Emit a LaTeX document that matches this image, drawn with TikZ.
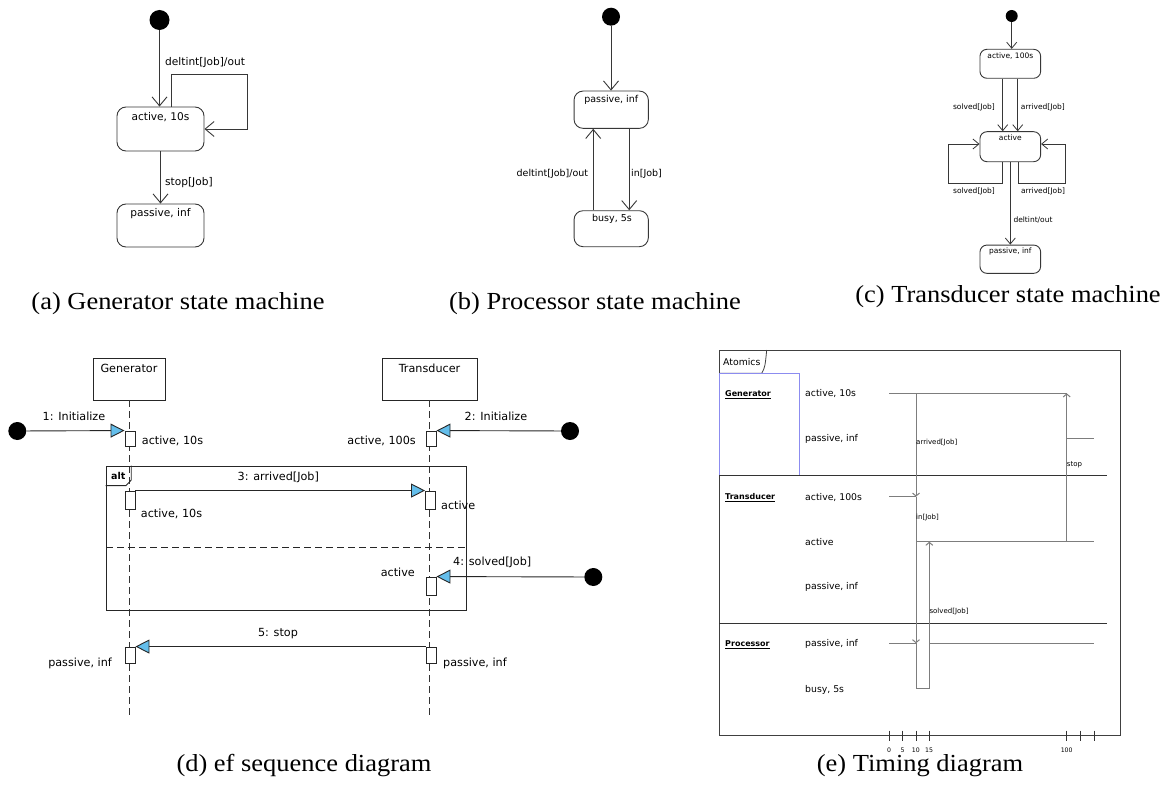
\documentclass[tikz,border=0pt]{standalone}
\usepackage{fontspec}
\setmainfont{Liberation Serif}
\newfontfamily\dv{DejaVu Sans}
\newfontfamily\capfont[FakeStretch=1.08]{Liberation Serif}
\usetikzlibrary{arrows.meta,calc}
\definecolor{seqblue}{RGB}{100,190,235}
\definecolor{lnc}{RGB}{55,55,55}
\definecolor{tgray}{RGB}{125,125,125}
\definecolor{laneblue}{RGB}{140,140,240}
\tikzset{
 ftA/.style={font=\dv\fontsize{10.6}{12}\selectfont, inner sep=0pt, text height=10.3pt, text depth=2.65pt},
 ftB/.style={font=\dv\fontsize{9.5}{11}\selectfont, inner sep=0pt, text height=9.2pt, text depth=2.4pt},
 ftC/.style={font=\dv\fontsize{7.5}{9}\selectfont, inner sep=0pt, text height=7.3pt, text depth=1.9pt},
 ftD/.style={font=\dv\fontsize{11.2}{13}\selectfont, inner sep=0pt, text height=10.9pt, text depth=2.8pt},
 ftE/.style={font=\dv\fontsize{9.3}{11}\selectfont, inner sep=0pt, text height=9pt, text depth=2.3pt},
 ftT/.style={font=\dv\fontsize{7}{8}\selectfont, inner sep=0pt, text height=6.8pt, text depth=1.75pt},
 ftK/.style={font=\dv\fontsize{6.2}{7}\selectfont, inner sep=0pt},
 ftL/.style={font=\dv\bfseries\fontsize{8}{9}\selectfont, inner sep=0pt, text height=7.8pt, text depth=2pt},
 ftAlt/.style={font=\dv\bfseries\fontsize{9.5}{11}\selectfont, inner sep=0pt, text height=9.2pt, text depth=2.4pt},
 capt/.style={font=\capfont\fontsize{24.5}{28}\selectfont, inner sep=0pt, anchor=base},
 statebox/.style={draw=lnc, rounded corners=9pt, inner sep=0pt, line width=0.9pt},
 initdot/.style={circle, fill=black, draw=none, inner sep=0pt},
 sarr/.style={draw=lnc, line width=0.9pt, -{Straight Barb[length=9pt,width=15pt]}},
 sarrc/.style={draw=lnc, line width=0.8pt, -{Straight Barb[length=6pt,width=10pt]}},
 objbox/.style={draw=black!85, inner sep=0pt, line width=0.9pt},
 act/.style={draw=black!85, fill=white, inner sep=0pt, minimum width=10pt, line width=0.9pt},
 msg/.style={draw=black!85, line width=0.9pt, -{Triangle[length=14pt,width=14pt,fill=seqblue]}},
 lifeline/.style={draw=black!80, dash pattern=on 7pt off 4pt, line width=0.8pt},
 tl/.style={draw=tgray, line width=1pt},
 tarr/.style={draw=tgray, line width=1pt, -{Straight Barb[length=3pt,width=7pt]}},
}
\begin{document}
\begin{tikzpicture}[x=1pt,y=-1pt]
\useasboundingbox (0,0) rectangle (1169,789);

% ---------------- (a) Generator state machine
\node[initdot, minimum size=20pt] (ai) at (159.5,20) {};
\node[statebox, minimum width=87pt, minimum height=44pt] (aa) at (160.5,129) {};
\node[ftA] (aat) at (160.5,117) {active, 10s};
\node[statebox, minimum width=87pt, minimum height=43pt] (ap) at (160.5,225.5) {};
\node[ftA] (apt) at (160.5,213) {passive, inf};
\draw[sarr] (ai.south) -- (ai.south |- aa.north);
\draw[sarr] ([xshift=10.5pt]aa.north) -- ++(0,-32) -| ([xshift=43pt]aa.east) -- (aa.east);
\node[ftA, anchor=west] (al1) at (165,62) {deltint[Job]/out};
\draw[sarr] (aa.south) -- (ap.north);
\node[ftA, anchor=west] (al2) at (165,181.7) {stop[Job]};
\node[capt] (capa) at (178,309) {(a) Generator state machine};

% ---------------- (b) Processor state machine
\node[initdot, minimum size=18pt] (bi) at (611,16.7) {};
\node[statebox, minimum width=74.3pt, minimum height=37.3pt] (bp) at (611.2,109.7) {};
\node[ftB] (bpt) at (611.2,99.3) {passive, inf};
\node[statebox, minimum width=74.3pt, minimum height=36pt] (bb) at (611.2,228.7) {};
\node[ftB] (bbt) at (612,218.3) {busy, 5s};
\draw[sarr] (bi.south) -- (bi.south |- bp.north);
\draw[sarr] ([xshift=-18pt]bb.north) -- ([xshift=-18pt]bp.south);
\draw[sarr] ([xshift=18pt]bp.south) -- ([xshift=18pt]bb.north);
\node[ftB, anchor=east] (bl1) at (588.3,173.3) {deltint[Job]/out};
\node[ftB, anchor=west] (bl2) at (631,173.3) {in[Job]};
\node[capt] (capb) at (595,309) {(b) Processor state machine};

% ---------------- (c) Transducer state machine
\node[initdot, minimum size=12pt] (ci) at (1011.7,16) {};
\node[statebox, rounded corners=7pt, minimum width=60.7pt, minimum height=29pt] (ca) at (1010.3,63.8) {};
\node[ftC] (cat) at (1010.3,55.5) {active, 100s};
\node[statebox, rounded corners=7pt, minimum width=60.7pt, minimum height=30pt] (cb) at (1010.3,146.7) {};
\node[ftC] (cbt) at (1010.3,138) {active};
\node[statebox, rounded corners=7pt, minimum width=60.7pt, minimum height=28.3pt] (cp) at (1010.3,259.2) {};
\node[ftC] (cpt) at (1010.3,251) {passive, inf};
\draw[sarrc] (ci.south) -- (ci.south |- ca.north);
\draw[sarrc] ([xshift=-7.6pt]ca.south) -- ([xshift=-7.6pt]cb.north);
\draw[sarrc] ([xshift=7.4pt]ca.south) -- ([xshift=7.4pt]cb.north);
\draw[sarrc] ([xshift=-7.6pt]cb.south) -- ++(0,21.6) -| ([xshift=-30.7pt,yshift=2.7pt]cb.west) -- ([yshift=2.7pt]cb.west);
\draw[sarrc] ([xshift=8pt]cb.south) -- ++(0,21.6) -| ([xshift=24.3pt,yshift=2.7pt]cb.east) -- ([yshift=2.7pt]cb.east);
\draw[sarrc] (cb.south) -- (cp.north);
\node[ftC, anchor=east] (cl1) at (995,107.3) {solved[Job]};
\node[ftC, anchor=west] (cl2) at (1020.7,107.3) {arrived[Job]};
\node[ftC] (cl3) at (974,191) {solved[Job]};
\node[ftC] (cl4) at (1043,191) {arrived[Job]};
\node[ftC, anchor=west] (cl5) at (1013.3,220) {deltint/out};
\node[capt] (capc) at (1008,302) {(c) Transducer state machine};

% ---------------- (d) sequence diagram
\node[objbox, minimum width=72pt, minimum height=42pt] (gen) at (129,379) {};
\node[ftD] (gent) at (129,368.3) {Generator};
\node[objbox, minimum width=95pt, minimum height=42pt] (trd) at (429.5,379) {};
\node[ftD] (trdt) at (429.5,368.3) {Transducer};
\coordinate (genend) at (129,718);
\coordinate (trdend) at (429.5,718);
\draw[lifeline] (gen.south) -- (genend);
\draw[lifeline] (trd.south) -- (trdend);

\node[objbox, minimum width=360.7pt, minimum height=144pt] (altf) at (286.35,538) {};
\draw[black!85, line width=0.9pt] ([yshift=-20pt]altf.north west) -- ++(20.5,0) -- ++(5.2,-5.5) -- ([xshift=25.7pt]altf.north west);
\node[ftAlt] (altt) at (118.3,476) {alt};
\coordinate (sepL) at (106,547.3);
\coordinate (sepR) at (466.7,547.3);
\draw[black!85, line width=0.9pt, dash pattern=on 7pt off 4pt] (sepL) -- (sepR);

\node[act, minimum height=15pt] (ga1) at (130,438.5) {};
\node[act, minimum height=18pt] (ga2) at (130,500) {};
\node[act, minimum height=16pt] (ga3) at (130,655) {};
\node[act, minimum height=15pt] (ta1) at (431,438.5) {};
\node[act, minimum height=18pt] (ta2) at (430.5,500) {};
\node[act, minimum height=18pt] (ta3) at (431,586) {};
\node[act, minimum height=16pt] (ta4) at (431,655) {};

\node[initdot, minimum size=18pt] (s1) at (17.3,431) {};
\node[initdot, minimum size=18pt] (s2) at (570,431) {};
\node[initdot, minimum size=18pt] (s4) at (593.3,577) {};
\draw[msg] (s1) -- (ga1.north west);
\draw[msg] (s2) -- (ta1.north east);
\draw[msg] (ga2.north east) -- (ta2.north west);
\draw[msg] (s4) -- (ta3.north east);
\draw[msg] (ta4.north west) -- (ga3.north east);

\node[ftD] (m1) at (74,416) {1: Initialize};
\node[ftD] (m2) at (496,416) {2: Initialize};
\node[ftD] (m3) at (278.3,476) {3: arrived[Job]};
\node[ftD, anchor=west] (m4) at (453,561.7) {4: solved[Job]};
\node[ftD] (m5) at (278,632) {5: stop};
\node[ftD, anchor=west] (st1) at (141.7,440) {active, 10s};
\node[ftD, anchor=east] (st2) at (416,440) {active, 100s};
\node[ftD, anchor=west] (st3) at (140.7,513.3) {active, 10s};
\node[ftD, anchor=west] (st4) at (441,505) {active};
\node[ftD, anchor=east] (st5) at (415,572.7) {active};
\node[ftD, anchor=east] (st6) at (112,662) {passive, inf};
\node[ftD, anchor=west] (st7) at (443,662) {passive, inf};
\node[capt] (capd) at (304,771) {(d) ef sequence diagram};

% ---------------- (e) timing diagram
\draw[black!75, line width=0.9pt] (719,350) rectangle (1120.7,735.7);
\draw[black!75, line width=0.8pt] (719,373.3) -- (761.7,373.3) .. controls (765,367) .. (766.7,350);
\node[ftE, anchor=west] (atom) at (723,362) {Atomics};
\draw[laneblue, line width=0.6pt] (719,373.3) rectangle (799.3,475.7);
\draw[black!80, line width=0.9pt] (719,475.7) -- (1106.7,475.7);
\draw[black!80, line width=0.9pt] (719,623.3) -- (1106.7,623.3);

\node[ftL, anchor=west] (lg) at (725,393.3) {\underline{Generator}};
\node[ftL, anchor=west] (lt) at (725,496.7) {\underline{Transducer}};
\node[ftL, anchor=west] (lp) at (725,643.3) {\underline{Processor}};
\node[ftE, anchor=west] (e1) at (805,393.3) {active, 10s};
\node[ftE, anchor=west] (e2) at (805,438.3) {passive, inf};
\node[ftE, anchor=west] (e3) at (805,496.7) {active, 100s};
\node[ftE, anchor=west] (e4) at (805,541.7) {active};
\node[ftE, anchor=west] (e5) at (805,586) {passive, inf};
\node[ftE, anchor=west] (e6) at (805,643.3) {passive, inf};
\node[ftE, anchor=west] (e7) at (805,689.3) {busy, 5s};

% timelines
\draw[tl] (889,393.3) -- (1066.7,393.3);
\draw[tl] (1066.7,438.3) -- (1094.3,438.3);
\draw[tl] (889,496.7) -- (916,496.7);
\draw[tarr] (916,393.3) -- (916,496.7);
\draw[tl] (916,496.7) -- (916,541.7) -- (1094.3,541.7);
\draw[tarr] (916,541.7) -- (916,643.3);
\draw[tl] (889,643.3) -- (916,643.3);
\draw[tl] (916,643.3) -- (916,688.3) -- (929.3,688.3) -- (929.3,643.3) -- (1094.3,643.3);
\draw[tarr] (929.3,643.3) -- (929.3,541.7);
\draw[tarr] (1066.7,541.7) -- (1066.7,393.3);
\node[ftT, anchor=west] (tm1) at (916,441.7) {arrived[Job]};
\node[ftT, anchor=west] (tm2) at (916,516.7) {in[Job]};
\node[ftT, anchor=west] (tm3) at (929.3,610.7) {solved[Job]};
\node[ftT, anchor=west] (tm4) at (1066.7,464) {stop};

% axis ticks
\foreach \tx in {889,902.3,916,929.3,1066.7,1080,1094}
  \draw[black!80, line width=0.8pt] (\tx,730.7) -- (\tx,740.7);
\node[ftK] (klab) at (909.15,750.7) {\makebox[13.3pt]{0}\makebox[13.3pt]{5}\makebox[13.3pt]{10}\makebox[13.3pt]{15}};
\node[ftK] (k100) at (1066.7,750.7) {100};
\node[capt] (cape) at (920,771) {(e) Timing diagram};
\end{tikzpicture}
\end{document}
